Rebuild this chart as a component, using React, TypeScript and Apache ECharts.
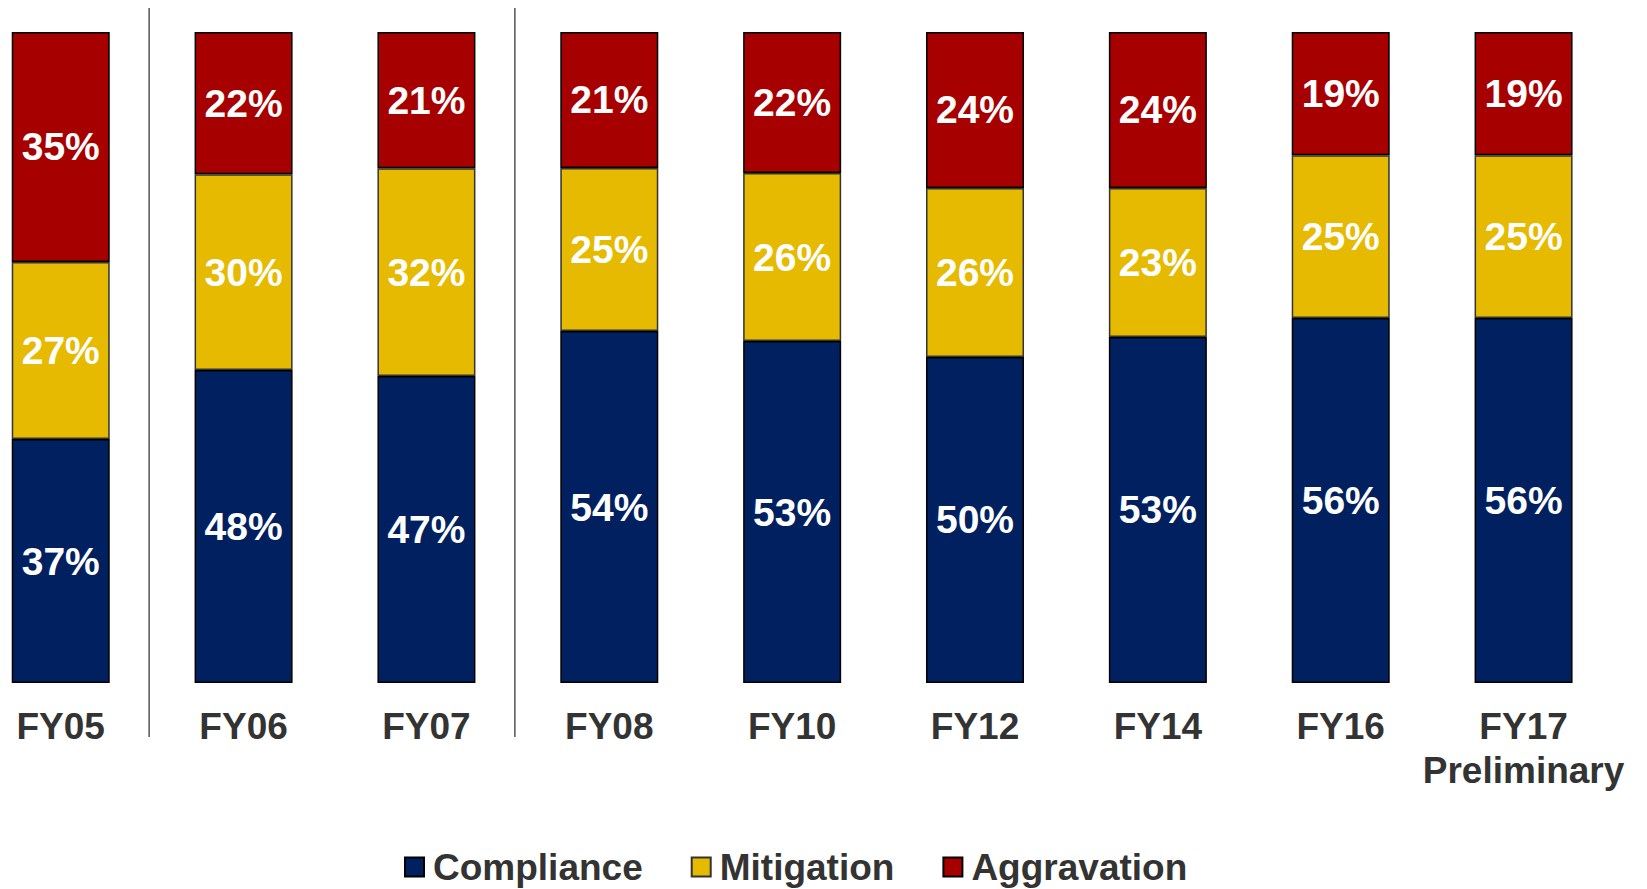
import React, { useEffect, useRef } from "react";
import * as echarts from "echarts";

const categories = ["FY05", "FY06", "FY07", "FY08", "FY10", "FY12", "FY14", "FY16", "FY17\nPreliminary"];
const compliance = [37.48, 48.08, 47.16, 54.07, 52.53, 50.08, 53.15, 56.07, 56.07];
const mitigation = [27.19, 30.06, 31.9, 25.04, 25.81, 25.96, 22.89, 24.99, 24.99];
const aggravation = [35.33, 21.86, 20.94, 20.89, 21.66, 23.96, 23.96, 18.94, 18.94];
// separators drawn after these category indices
const separatorsAfter = [0, 2];

const FONT = '"Liberation Sans", Arial, Helvetica, sans-serif';

export default function App() {
  const ref = useRef<HTMLDivElement>(null);
  useEffect(() => {
    if (!ref.current) return;
    const chart = echarts.init(ref.current, null, { renderer: "svg" });
    const label = {
      show: true,
      position: "inside",
      color: "#ffffff",
      fontFamily: FONT,
      fontWeight: "bold",
      fontSize: 39,
      formatter: (p: any) => Math.round(p.value) + "%",
    };
    const mk = (name: string, data: number[], color: string, border: string) => ({
      name,
      type: "bar",
      stack: "total",
      data,
      barWidth: 98,
      itemStyle: { color, borderColor: border, borderWidth: 1.5 },
      label,
      emphasis: { disabled: true },
    });
    chart.setOption({
      animation: false,
      grid: {
        left: -30.7,
        right: 32,
        top: 32,
        bottom: 206,
        containLabel: false,
        outerBoundsMode: "none",
      },
      legend: {
        left: 404,
        top: 848,
        padding: 0,
        itemWidth: 19,
        itemHeight: 19,
        itemGap: 48,
        icon: "rect",
        selectedMode: false,
        textStyle: {
          fontFamily: FONT,
          fontWeight: "bold",
          fontSize: 37,
          lineHeight: 38,
          color: "#333333",
          padding: [0, 0, 0, 4],
        },
        data: ["Compliance", "Mitigation", "Aggravation"],
      },
      xAxis: {
        type: "category",
        data: categories,
        axisLine: { show: false },
        axisTick: { show: false },
        axisLabel: {
          fontFamily: FONT,
          fontWeight: "bold",
          fontSize: 37,
          lineHeight: 44,
          color: "#333333",
          margin: 21,
          interval: 0,
        },
      },
      yAxis: {
        type: "value",
        min: 0,
        max: 100,
        show: false,
        splitLine: { show: false },
      },
      series: [
        mk("Compliance", compliance, "#002060", "#000000"),
        mk("Mitigation", mitigation, "#E6BA00", "#333333"),
        mk("Aggravation", aggravation, "#A60000", "#000000"),
      ],
    });
    const lines = separatorsAfter.map((i) => {
      const a = chart.convertToPixel({ xAxisIndex: 0 }, categories[i]) as number;
      const b = chart.convertToPixel({ xAxisIndex: 0 }, categories[i + 1]) as number;
      const x = (a + b) / 2 - 3;
      return {
        type: "line",
        shape: { x1: x, y1: 8, x2: x, y2: 737 },
        style: { stroke: "#555555", lineWidth: 1.5 },
        silent: true,
      };
    });
    chart.setOption({ graphic: lines });
    return () => chart.dispose();
  }, []);
  return (
    <div
      ref={ref}
      style={{ position: "fixed", left: 0, top: 0, width: 1647, height: 889, background: "#ffffff" }}
    />
  );
}
